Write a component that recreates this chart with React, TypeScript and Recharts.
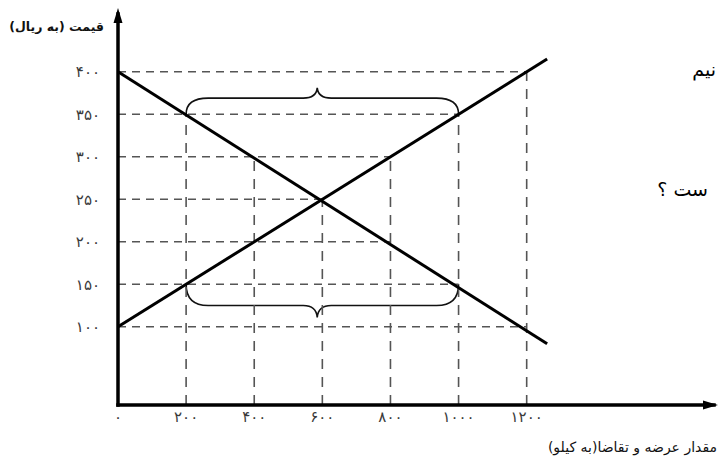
import React from 'react';
import { LineChart, Line, XAxis, YAxis, ReferenceLine, ReferenceArea, ReferenceDot } from 'recharts';

const xTicks = [0, 200, 400, 600, 800, 1000, 1200];
const xTickLabels = ['۰', '۲۰۰', '۴۰۰', '۶۰۰', '۸۰۰', '۱۰۰۰', '۱۲۰۰'];
const yTicks = [100, 150, 200, 250, 300, 350, 400];
const yTickLabels = ['۱۰۰', '۱۵۰', '۲۰۰', '۲۵۰', '۳۰۰', '۳۵۰', '۴۰۰'];

const supplyPoints = [
  { q: 0, p: 100 },
  { q: 1260, p: 415 },
];
const demandPoints = [
  { q: 0, p: 400 },
  { q: 1260, p: 80 },
];

const hGuides = [
  { p: 400, qTo: 1200 },
  { p: 350, qTo: 1000 },
  { p: 300, qTo: 800 },
  { p: 250, qTo: 600 },
  { p: 200, qTo: 800 },
  { p: 150, qTo: 1000 },
  { p: 100, qTo: 1200 },
];
const vGuides = [
  { q: 200, pTo: 350 },
  { q: 400, pTo: 300 },
  { q: 600, pTo: 250 },
  { q: 800, pTo: 300 },
  { q: 1000, pTo: 350 },
  { q: 1200, pTo: 400 },
];

const braces = [
  { qFrom: 200, qTo: 1000, qTip: 585, pBase: 350, pFlat: 369, pTip: 381 },
  { qFrom: 200, qTo: 1000, qTip: 585, pBase: 150, pFlat: 125, pTip: 111 },
];

const X_DOMAIN: [number, number] = [0, 1750];
const Y_DOMAIN: [number, number] = [8, 468];

const yTitle = 'قیمت (به ریال)';
const xTitle = 'مقدار عرضه و تقاضا(به کیلو)';
const sideText1 = 'نیم';
const sideText2 = 'ست ؟';

const persianFont = '"DejaVu Sans", "Noto Sans", sans-serif';

const makeBraceShape = (b: typeof braces[number]) => (props: any) => {
  const { x, y, width, height } = props;
  if (x == null || y == null) return null;
  const up = b.pTip > b.pBase;
  const span = Math.abs(b.pTip - b.pBase);
  const flatFromTip = (Math.abs(b.pTip - b.pFlat) / span) * height;
  const tipFrac = (b.qTip - b.qFrom) / (b.qTo - b.qFrom);
  const mid = x + width * tipFrac;
  const r = 22;
  const tw = 14;
  let base: number, flat: number, tip: number;
  if (up) {
    base = y + height;
    flat = y + flatFromTip;
    tip = y;
  } else {
    base = y;
    flat = y + height - flatFromTip;
    tip = y + height;
  }
  const d = `M${x},${base} Q${x},${flat} ${x + r},${flat} L${mid - tw},${flat} Q${mid - 1},${flat} ${mid},${tip} Q${mid + 1},${flat} ${mid + tw},${flat} L${x + width - r},${flat} Q${x + width},${flat} ${x + width},${base}`;
  return <path d={d} fill="none" stroke="#111" strokeWidth={1.6} />;
};

const upArrow = (props: any) => {
  const { cx, cy } = props;
  if (cx == null || cy == null) return null;
  return <path d={`M${cx},${cy - 6} L${cx - 4.5},${cy + 9} L${cx + 4.5},${cy + 9} Z`} fill="#000" />;
};
const rightArrow = (props: any) => {
  const { cx, cy } = props;
  if (cx == null || cy == null) return null;
  return <path d={`M${cx + 4},${cy} L${cx - 11},${cy - 4.5} L${cx - 11},${cy + 4.5} Z`} fill="#000" />;
};

export default function App() {
  return (
    <div style={{ position: 'absolute', left: 0, top: 0, width: 718, height: 463, overflow: 'hidden', background: '#fff' }}>
      <LineChart width={718} height={463} margin={{ top: 14, right: 4, bottom: 0, left: 0 }}>
        <XAxis
          type="number"
          dataKey="q"
          domain={X_DOMAIN}
          ticks={xTicks}
          allowDataOverflow
          height={58}
          tickLine={false}
          tickSize={0}
          tickMargin={6}
          axisLine={{ stroke: '#000', strokeWidth: 3.5, strokeLinecap: 'square' }}
          tick={{ fill: '#3a3a3a', fontSize: 15, fontFamily: persianFont }}
          tickFormatter={(v: number) => xTickLabels[xTicks.indexOf(v)] ?? ''}
        />
        <YAxis
          type="number"
          dataKey="p"
          domain={Y_DOMAIN}
          ticks={yTicks}
          allowDataOverflow
          width={118}
          tickLine={false}
          tickSize={0}
          tickMargin={18}
          axisLine={{ stroke: '#000', strokeWidth: 3.5, strokeLinecap: 'square' }}
          tick={{ fill: '#3a3a3a', fontSize: 15, fontFamily: persianFont }}
          tickFormatter={(v: number) => yTickLabels[yTicks.indexOf(v)] ?? ''}
        />
        {hGuides.map((g) => (
          <ReferenceLine
            key={`h${g.p}`}
            segment={[{ x: 0, y: g.p }, { x: g.qTo, y: g.p }]}
            stroke="#555"
            strokeWidth={1.6}
            strokeDasharray="8 6"
          />
        ))}
        {vGuides.map((g) => (
          <ReferenceLine
            key={`v${g.q}`}
            segment={[{ x: g.q, y: Y_DOMAIN[0] }, { x: g.q, y: g.pTo }]}
            stroke="#555"
            strokeWidth={1.6}
            strokeDasharray="10 8"
          />
        ))}
        {braces.map((b, i) => (
          <ReferenceArea
            key={`b${i}`}
            x1={b.qFrom}
            x2={b.qTo}
            y1={Math.min(b.pBase, b.pTip)}
            y2={Math.max(b.pBase, b.pTip)}
            shape={makeBraceShape(b)}
          />
        ))}
        <Line
          data={supplyPoints}
          dataKey="p"
          type="linear"
          stroke="#000"
          strokeWidth={3}
          dot={false}
          activeDot={false}
          isAnimationActive={false}
        />
        <Line
          data={demandPoints}
          dataKey="p"
          type="linear"
          stroke="#000"
          strokeWidth={3}
          dot={false}
          activeDot={false}
          isAnimationActive={false}
        />
        <ReferenceDot x={X_DOMAIN[0]} y={Y_DOMAIN[1]} shape={upArrow} ifOverflow="visible" />
        <ReferenceDot x={X_DOMAIN[1]} y={Y_DOMAIN[0]} shape={rightArrow} ifOverflow="visible" />
      </LineChart>
      <div style={{ position: 'absolute', right: 614, top: 19, direction: 'rtl', fontFamily: persianFont, fontSize: 12.5, fontWeight: 'bold', color: '#111', whiteSpace: 'nowrap' }}>
        {yTitle}
      </div>
      <div style={{ position: 'absolute', right: 1, top: 439, direction: 'rtl', fontFamily: persianFont, fontSize: 14, color: '#111', whiteSpace: 'nowrap' }}>
        {xTitle}
      </div>
      <div style={{ position: 'absolute', right: 2, top: 58, direction: 'rtl', fontFamily: persianFont, fontSize: 19, color: '#000', whiteSpace: 'nowrap' }}>
        {sideText1}
      </div>
      <div style={{ position: 'absolute', right: 10, top: 178, direction: 'rtl', fontFamily: persianFont, fontSize: 19, color: '#000', whiteSpace: 'nowrap' }}>
        {sideText2}
      </div>
    </div>
  );
}
